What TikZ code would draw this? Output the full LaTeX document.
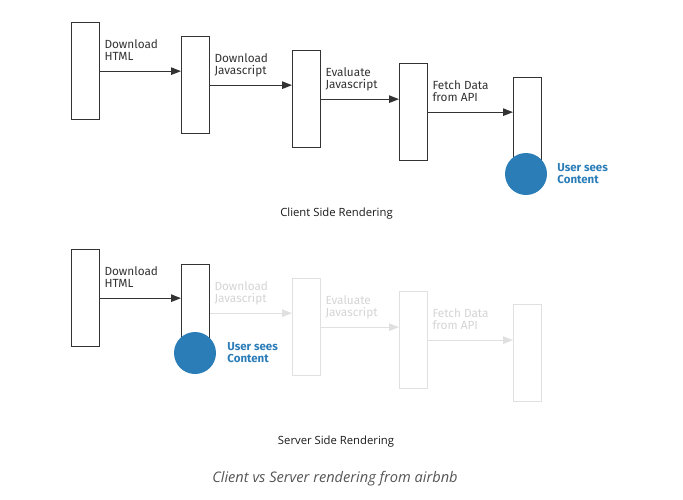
\documentclass[tikz,border=0pt]{standalone}
\usepackage{fontspec}
\setmainfont{Open Sans}
\newfontfamily\stagefont{Fira Sans}
\usepackage{tikz}
\usetikzlibrary{arrows.meta, calc}

\definecolor{boxline}{HTML}{333333}
\definecolor{fadeline}{HTML}{E0E0E0}
\definecolor{fadetext}{HTML}{D4D4D4}
\definecolor{seenblue}{HTML}{2B7DB8}
\definecolor{captiongray}{HTML}{555555}

\tikzset{
  stage/.style={draw=boxline, fill=white, line width=1.3pt, rectangle,
    minimum width=28pt, minimum height=97pt, inner sep=0pt, anchor=north west},
  fadestage/.style={stage, draw=fadeline},
  flow/.style={draw=boxline, line width=1.3pt, -{Triangle[length=10pt,width=7.5pt]}},
  fadeflow/.style={flow, draw=fadeline, color=fadeline},
  lbl/.style={anchor=north west, inner sep=0pt, align=left, text=boxline,
    font=\stagefont\fontsize{11.8}{12.5}\selectfont},
  fadelbl/.style={lbl, text=fadetext},
  seen/.style={circle, fill=seenblue, minimum size=42pt, inner sep=0pt},
  seenlbl/.style={lbl, text=seenblue, font=\stagefont\bfseries\fontsize{11.5}{12.5}\selectfont},
  title/.style={inner sep=0pt, text=black!90, font=\fontsize{11.3}{12}\selectfont}
}

\begin{document}
\begin{tikzpicture}[x=1pt, y=-1pt]
    \useasboundingbox (0,0) rectangle (683,499);

    % client side rendering
    \node[stage] (c1) at (71,22) {};
    \node[stage] (c2) at (181,36) {};
    \node[stage] (c3) at (292,50) {};
    \node[stage] (c4) at (399,63) {};
    \node[stage] (c5) at (513,77) {};

    \draw[flow] (c1.east) -- (c1.east -| c2.west);
    \draw[flow] (c2.east) -- (c2.east -| c3.west);
    \draw[flow] (c3.east) -- (c3.east -| c4.west);
    \draw[flow] (c4.east) -- (c4.east -| c5.west);

    \node[lbl] (cl1) at ($(c1.east) + (4,-32)$) {Download\\HTML};
    \node[lbl] (cl2) at ($(c2.east) + (4,-32)$) {Download\\Javascript};
    \node[lbl] (cl3) at ($(c3.east) + (4,-32)$) {Evaluate\\Javascript};
    \node[lbl] (cl4) at ($(c4.east) + (4,-32)$) {Fetch Data\\from API};

    \node[seen] (cseen) at (526,174) {};
    \node[seenlbl] (cseenlbl) at ($(cseen.east) + (10,-11)$) {User sees\\Content};

    \node[title] (ctitle) at (336.5,214) {Client Side Rendering};

    % server side rendering
    \node[stage] (s1) at (71,249) {};
    \node[stage] (s2) at (181,264) {};
    \node[fadestage] (s3) at (292,278) {};
    \node[fadestage] (s4) at (399,291) {};
    \node[fadestage] (s5) at (513,304) {};

    \draw[flow] (s1.east) -- (s1.east -| s2.west);
    \draw[fadeflow] (s2.east) -- (s2.east -| s3.west);
    \draw[fadeflow] (s3.east) -- (s3.east -| s4.west);
    \draw[fadeflow] (s4.east) -- (s4.east -| s5.west);

    \node[lbl] (sl1) at ($(s1.east) + (4,-32)$) {Download\\HTML};
    \node[fadelbl] (sl2) at ($(s2.east) + (4,-32)$) {Download\\Javascript};
    \node[fadelbl] (sl3) at ($(s3.east) + (4,-32)$) {Evaluate\\Javascript};
    \node[fadelbl] (sl4) at ($(s4.east) + (4,-32)$) {Fetch Data\\from API};

    \node[seen] (sseen) at (195,353) {};
    \node[seenlbl] (sseenlbl) at ($(sseen.east) + (11,-11)$) {User sees\\Content};

    \node[title] (stitle) at (336,442) {Server Side Rendering};

    \node[inner sep=0pt, text=captiongray, font=\itshape\fontsize{14.6}{16}\selectfont] (caption) at (335,479) {Client vs Server rendering from airbnb};
\end{tikzpicture}
\end{document}
